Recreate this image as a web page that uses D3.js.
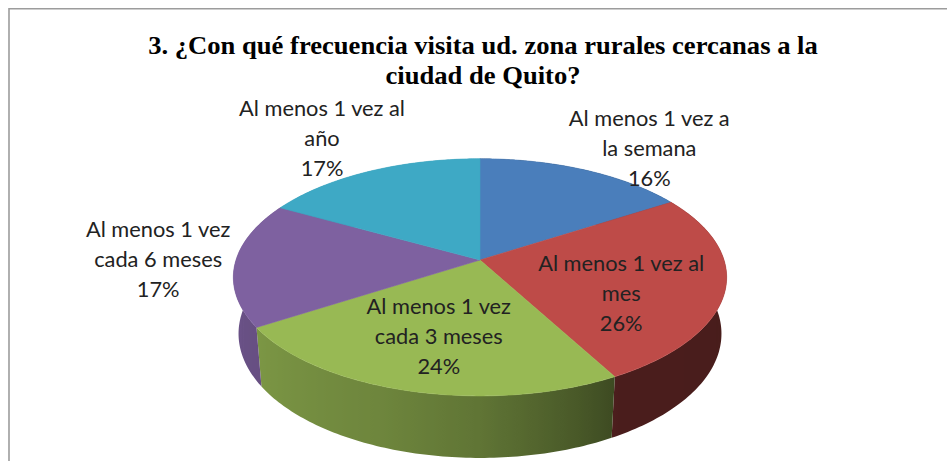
<!DOCTYPE html>
<html><head><meta charset="utf-8">
<script src="https://cdn.jsdelivr.net/npm/d3@7"></script>
<style>body{margin:0;background:#fff}svg{display:block}</style>
</head><body>
<svg id="c" width="947" height="461"></svg>
<script>
// ---- data ----
const titleLines = ["3. ¿Con qué frecuencia visita ud. zona rurales cercanas a la", "ciudad de Quito?"];
const categories = ["Al menos 1 vez a la semana", "Al menos 1 vez al mes", "Al menos 1 vez cada 3 meses", "Al menos 1 vez cada 6 meses", "Al menos 1 vez al año"];
const values = [16, 26, 24, 17, 17];
const labelLines = [["Al menos 1 vez a", "la semana"], ["Al menos 1 vez al", "mes"], ["Al menos 1 vez", "cada 3 meses"], ["Al menos 1 vez", "cada 6 meses"], ["Al menos 1 vez al", "año"]];
const colors = ["#4a7ebb", "#be4b48", "#98b954", "#7e61a0", "#3ea9c5"];

// ---- layout ----
const W = 947, H = 461;
const cx = 480, cy = 260, K = 244;
const tilt = 28.4 * Math.PI / 180;
const sinA = Math.sin(tilt), cosA = Math.cos(tilt);
const camD = 6.02, thick = 0.266;
const labelRadius = [1.38, 0.62, 0.62, 1.32, 1.46];
const labelShiftDeg = [7, 12, 0, 2, -1];
const lineH = 30;

const svg = d3.select("#c");
const defs = svg.append("defs");

function project(theta, rho, down) {
  const x = rho * Math.sin(theta), z = rho * Math.cos(theta);
  const v = down * cosA - z * sinA;
  const d = z * cosA + down * sinA;
  const s = 1 / (1 + d / camD);
  return [cx + K * x * s, cy + K * v * s];
}

// border
svg.append("line").attr("x1", 9).attr("y1", 8.75).attr("x2", W).attr("y2", 8.75)
  .attr("stroke", "#9c9c9c").attr("stroke-width", 1.6);
svg.append("line").attr("x1", 9).attr("y1", 8).attr("x2", 9).attr("y2", H)
  .attr("stroke", "#9c9c9c").attr("stroke-width", 1.6);

const color = d3.scaleOrdinal().domain(categories).range(colors);
const arcs = d3.pie().sort(null).value(d => d.v)(values.map((v, i) => ({v, c: categories[i], i})));

const shade = d3.scaleLinear().domain([0, 90, 150, 160, 180, 200, 240, 270, 360])
  .range([0.38, 0.38, 0.39, 0.48, 0.63, 0.72, 0.82, 0.85, 0.85]).clamp(true);
function shadeColor(c, theta) {
  const f = shade(theta * 180 / Math.PI);
  const r = d3.rgb(c);
  return d3.rgb(r.r * f, r.g * f, r.b * f).toString();
}
const line = d3.line();

// walls: one path per slice with horizontal gradient
const wallG = svg.append("g");
arcs.forEach((a, i) => {
  const n = 90;
  const top = [], bot = [], stops = [];
  for (let k = 0; k <= n; k++) {
    const t = a.startAngle + (a.endAngle - a.startAngle) * k / n;
    top.push(project(t, 1, 0));
    bot.push(project(t, 1, thick));
    if (Math.cos(t) < 0.15) stops.push({x: top[k][0], c: shadeColor(color(a.data.c), t)});
  }
  const xs = top.map(p => p[0]);
  const x0 = d3.min(xs), x1 = d3.max(xs);
  stops.sort((p, q) => p.x - q.x);
  const g = defs.append("linearGradient").attr("id", "w" + i)
    .attr("gradientUnits", "userSpaceOnUse").attr("x1", x0).attr("x2", x1).attr("y1", 0).attr("y2", 0);
  if (stops.length === 0) stops.push({x: x0, c: shadeColor(color(a.data.c), a.startAngle)});
  stops.forEach(s => g.append("stop").attr("offset", x1 > x0 ? (s.x - x0) / (x1 - x0) : 0).attr("stop-color", s.c));
  wallG.append("path")
    .attr("d", line(top.concat(bot.reverse())) + "Z")
    .attr("fill", `url(#w${i})`);
});

// top faces
function topPath(a) {
  const pts = [project(0, 0, 0)];
  const n = 120;
  for (let k = 0; k <= n; k++) {
    const t = a.startAngle + (a.endAngle - a.startAngle) * k / n;
    pts.push(project(t, 1, 0));
  }
  return line(pts) + "Z";
}
svg.append("g").selectAll("path").data(arcs).join("path")
  .attr("d", topPath)
  .attr("fill", a => color(a.data.c))
  .attr("stroke", a => color(a.data.c))
  .attr("stroke-width", 0.6)
  .attr("stroke-linejoin", "round");

// title (stretched horizontally to the reference width)
const title = svg.append("text").attr("text-anchor", "middle")
  .attr("font-family", "'Liberation Serif','Times New Roman',serif")
  .attr("font-weight", "bold").attr("font-size", 25).attr("fill", "#000");
titleLines.forEach((t, i) => title.append("tspan").attr("x", 0).attr("y", 54 + i * 30).text(t));
const tw = title.select("tspan").node().getComputedTextLength();
title.attr("transform", `translate(483,0) scale(${670 / tw},1)`);

// labels
const labelFont = "Lato, 'Open Sans', sans-serif";
const probe = svg.append("text").attr("font-family", labelFont).attr("font-size", 24).text("Al menos 1 vez al");
const fs = 24 * 166 / probe.node().getComputedTextLength();
probe.remove();
const pct = d3.format(".0%");
const total = d3.sum(values);
const lg = svg.append("g");
arcs.forEach((a, i) => {
  const mid = (a.startAngle + a.endAngle) / 2 + labelShiftDeg[i] * Math.PI / 180;
  const [lx, ly] = project(mid, labelRadius[i], 0);
  const lines = labelLines[i].concat([pct(values[i] / total)]);
  const t = lg.append("text").attr("text-anchor", "middle")
    .attr("font-family", labelFont).attr("font-size", fs).attr("fill", "#222");
  lines.forEach((s, j) => t.append("tspan").attr("x", lx)
    .attr("y", ly + (j - 1) * lineH + fs * 0.36).text(s));
});
</script>
</body></html>
